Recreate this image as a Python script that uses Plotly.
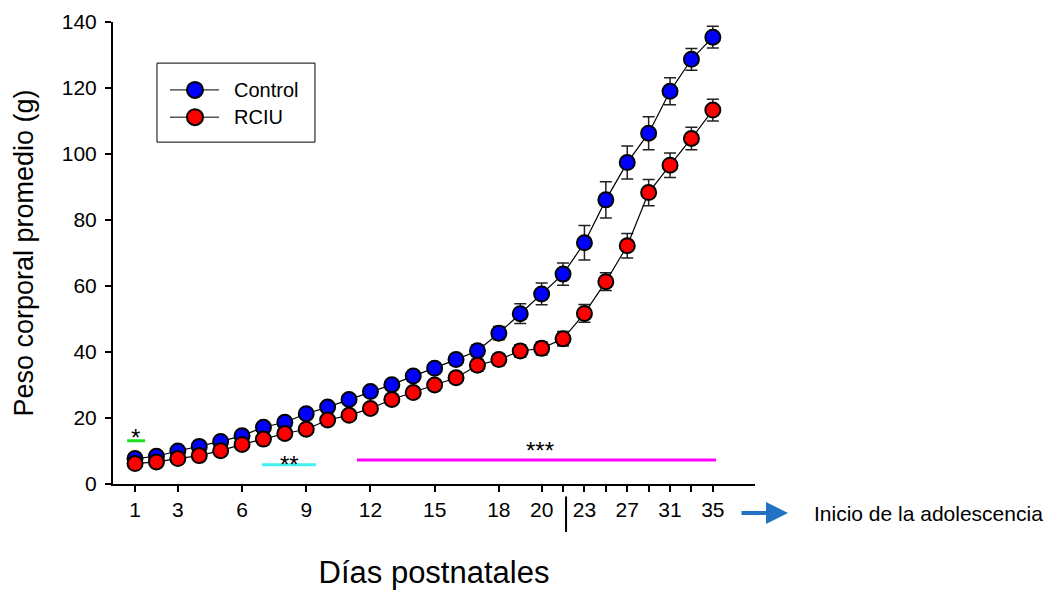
import plotly.graph_objects as go

# Postnatal days measured (daily to day 21, then every other day)
days = [1, 2, 3, 4, 5, 6, 7, 8, 9, 10, 11, 12, 13, 14, 15, 16, 17, 18, 19, 20,
        21, 23, 25, 27, 29, 31, 33, 35]

# Mean body weight (g) and SEM per group
control_mean = [7.7, 8.4, 10.0, 11.4, 12.9, 14.6, 17.2, 18.7, 21.3, 23.3,
                25.6, 28.0, 30.1, 32.7, 35.1, 37.7, 40.4, 45.7, 51.6, 57.6,
                63.6, 73.1, 86.1, 97.4, 106.3, 119.0, 128.7, 135.4]
control_sem = [0.6, 0.6, 0.7, 0.7, 0.8, 0.9, 1.0, 1.0, 1.1, 1.2,
               1.2, 1.3, 1.4, 1.5, 1.6, 1.7, 1.8, 2.0, 3.0, 3.3,
               3.4, 5.2, 5.5, 5.0, 5.0, 4.1, 3.3, 3.3]
rciu_mean = [6.2, 6.7, 7.7, 8.6, 10.1, 12.0, 13.6, 15.3, 16.6, 19.4,
             20.8, 22.9, 25.6, 27.7, 30.0, 32.2, 36.0, 37.7, 40.3, 41.1,
             44.0, 51.7, 61.3, 72.2, 88.3, 96.6, 104.7, 113.3]
rciu_sem = [0.5, 0.5, 0.6, 0.6, 0.7, 0.8, 0.9, 1.0, 1.0, 1.1,
            1.2, 1.3, 1.4, 1.5, 1.6, 1.7, 1.8, 1.8, 1.9, 2.0,
            2.2, 2.7, 2.7, 3.7, 4.0, 3.7, 3.4, 3.3]

# Axis ticks (days) and their labels
tick_days = [1, 3, 6, 9, 12, 15, 18, 20, 21, 23, 25, 27, 29, 31, 33, 35]
tick_labels = ["1", "3", "6", "9", "12", "15", "18", "20", "", "23", "", "27",
               "", "31", "", "35"]

y_ticks = [0, 20, 40, 60, 80, 100, 120, 140]

# Significance bars: (start, end) in plotted position units, height, colour, label
sig_spans = [(-0.37, 0.47), (5.93, 8.46), (10.37, 27.15)]
sig_heights = [13.1, 5.8, 7.3]
sig_colors = ["#1fe01f", "#40f2f2", "#ff00ff"]
sig_labels = ["*", "**", "***"]

FONT = "Arial, Liberation Sans, Helvetica, sans-serif"

# Days are plotted by sequence position so the spacing is uniform
pos = list(range(len(days)))
tick_pos = [days.index(d) for d in tick_days]

fig = go.Figure()

for name, mean, sem, color in [("Control", control_mean, control_sem, "#0000ff"),
                               ("RCIU", rciu_mean, rciu_sem, "#ff0000")]:
    fig.add_trace(go.Scatter(
        x=pos, y=mean, name=name, mode="lines+markers",
        line=dict(color="black", width=1.2),
        marker=dict(size=15, color=color, line=dict(color="black", width=2)),
        error_y=dict(type="data", array=sem, visible=True,
                     color="#222222", thickness=1.5, width=6),
        showlegend=False,
    ))

shapes = []
annotations = []

# Significance bars with asterisks
label_offsets = [1.0, 0.1, 2.8]
label_x = [0.0, 7.2, 18.9]
for (x0, x1), yv, col, lab, off, lx in zip(sig_spans, sig_heights, sig_colors,
                                           sig_labels, label_offsets, label_x):
    shapes.append(dict(type="line", xref="x", yref="y", x0=x0, x1=x1, y0=yv, y1=yv,
                       line=dict(color=col, width=3)))
    annotations.append(dict(x=lx, y=yv + off, xref="x", yref="y", text=lab,
                            showarrow=False, yanchor="middle",
                            font=dict(family=FONT, size=24, color="black")))

# Axis break mark between day 21 and 23
shapes.append(dict(type="line", xref="x", yref="paper", x0=20.14, x1=20.14,
                   y0=-0.027, y1=-0.104, line=dict(color="black", width=2)))

# Legend box drawn as shapes
shapes.append(dict(type="rect", xref="paper", yref="paper",
                   x0=0.0685, x1=0.3146, y0=0.740, y1=0.911,
                   line=dict(color="black", width=1), fillcolor="white"))
for name, color, ly in [("Control", "#0000ff", 0.853), ("RCIU", "#ff0000", 0.794)]:
    shapes.append(dict(type="line", xref="paper", yref="paper",
                       x0=0.0888, x1=0.1651, y0=ly, y1=ly,
                       line=dict(color="black", width=1)))
    shapes.append(dict(type="circle", xref="paper", yref="paper",
                       xsizemode="pixel", ysizemode="pixel",
                       xanchor=0.1277, yanchor=ly, x0=-8, x1=8, y0=-8, y1=8,
                       fillcolor=color, line=dict(color="black", width=2)))
    annotations.append(dict(x=0.1854, y=ly, xref="paper", yref="paper", text=name,
                            showarrow=False, xanchor="left", yanchor="middle",
                            font=dict(family=FONT, size=20, color="black")))

# Arrow and note about adolescence onset
annotations.append(dict(x=1.0514, y=-0.0628, xref="paper", yref="paper",
                        ax=-48, ay=0, text="", showarrow=True,
                        arrowhead=2, arrowsize=1.1, arrowwidth=4,
                        arrowcolor="#1f73c2"))
annotations.append(dict(x=1.0888, y=-0.0628, xref="paper", yref="paper",
                        text="Inicio de la adolescencia", showarrow=False,
                        xanchor="left", yanchor="middle",
                        font=dict(family=FONT, size=21, color="black")))

fig.update_layout(
    width=1045, height=590,
    margin=dict(l=113, r=290, t=22, b=106),
    paper_bgcolor="white", plot_bgcolor="white",
    font=dict(family=FONT, color="black"),
    shapes=shapes, annotations=annotations,
)

fig.update_xaxes(
    range=[-1.03, 28.97], showgrid=False, zeroline=False, automargin=False,
    showline=True, linecolor="black", linewidth=2,
    ticks="outside", ticklen=6, tickwidth=2, tickcolor="black",
    tickmode="array", tickvals=tick_pos, ticktext=tick_labels,
    tickfont=dict(family=FONT, size=21, color="black"),
    title=dict(text="Días postnatales", standoff=44,
               font=dict(family=FONT, size=31, color="black")),
)
fig.update_yaxes(
    range=[0, 140], showgrid=False, zeroline=False, automargin=False,
    showline=True, linecolor="black", linewidth=2,
    ticks="outside", ticklen=6, tickwidth=2, tickcolor="black",
    tickmode="array", tickvals=y_ticks, ticklabelstandoff=4,
    tickfont=dict(family=FONT, size=21, color="black"),
    title=dict(text="Peso corporal promedio (g)", standoff=20,
               font=dict(family=FONT, size=27, color="black")),
)

fig.write_html("out.html")
